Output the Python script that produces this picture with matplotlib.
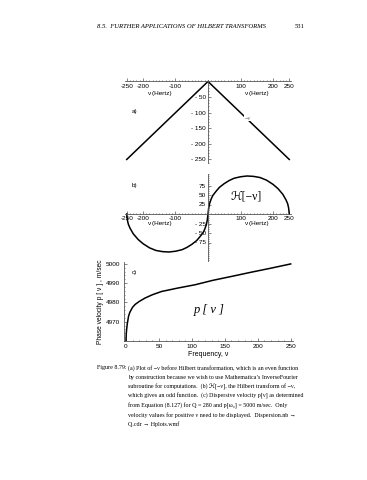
import matplotlib
matplotlib.use("Agg")
import matplotlib.pyplot as plt
from matplotlib.ticker import MultipleLocator

plt.rcParams["axes.unicode_minus"] = False

# ======================
# DATA
# ======================
# (a) -nu before Hilbert transformation
a_x = [-250, 0, 250]
a_y = [-250, 0, -250]

# (b) Hilbert transform of -nu
b_x = [-250, -248, -245, -240, -230, -215, -200, -180, -160, -140, -120, -100,
       -80, -65, -50, -35, -25, -15, -10, -5, -2, 0,
       2, 5, 10, 15, 25, 35, 50, 65, 80, 100, 120, 140, 160, 180, 200, 215,
       230, 240, 245, 248, 250]
b_y = [0, -16, -27, -37, -52, -67, -78, -89, -96, -99, -100, -98,
       -94, -88, -80, -70, -60, -49, -40, -28, -15, 0,
       15, 28, 40, 49, 60, 70, 80, 88, 94, 98, 100, 99, 96, 89, 78, 67,
       52, 37, 27, 16, 0]

# (c) dispersive phase velocity p[nu], m/sec
c_x = [0, 0.5, 1, 2, 4, 6, 10, 14, 20, 29, 40, 54, 79, 105, 132, 160, 190,
       220, 250]
c_y = [4960, 4964, 4966, 4969, 4973, 4975, 4977.5, 4979, 4980.5, 4982.3,
       4984, 4985.7, 4987.5, 4989.2, 4991.5, 4993.5, 4995.7, 4997.8, 5000]

a_xticks = [-250, -200, -100, 100, 200, 250]
a_yticks = [-50, -100, -150, -200, -250]
b_yticks = [75, 50, 25, -25, -50, -75]
c_xticks = [0, 50, 100, 150, 200, 250]
c_yticks = [4970, 4980, 4990, 5000]

header = "8.5.  FURTHER APPLICATIONS OF HILBERT TRANSFORMS"
page_no = "531"
caption = [
    "(a) Plot of \u2212\u03bd before Hilbert transformation, which is an even function",
    "by construction because we wish to use Mathematica\u2019s InverseFourier",
    "subroutine for computations.  (b) \u210b[\u2212\u03bd], the Hilbert transform of \u2212\u03bd,",
    "which gives an odd function.  (c) Dispersive velocity p[\u03bd] as determined",
    "from Equation (8.127) for Q = 280 and p[\u03c9\u2080] = 5000 m/sec.  Only",
    "velocity values for positive \u03bd need to be displayed.  Dispersion.nb \u2192",
    "Q.cdr \u2192 Hplots.wmf",
]

# ======================
# LAYOUT (pixels)
# ======================
W, H = 367, 480
SANS = ["Liberation Sans", "DejaVu Sans"]
SERIF = ["Liberation Serif", "DejaVu Serif", "DejaVu Sans"]
AX_COLOR = "#555555"


def box(x0, y0, x1, y1):
    return [x0 / W, 1 - y1 / H, (x1 - x0) / W, (y1 - y0) / H]


def cross_axes(ax):
    for side in ["top", "right"]:
        ax.spines[side].set_visible(False)
    for side in ["left", "bottom"]:
        ax.spines[side].set_position("zero")
        ax.spines[side].set_color(AX_COLOR)
        ax.spines[side].set_linewidth(0.6)
    ax.tick_params(which="both", direction="in", color=AX_COLOR, width=0.5,
                   labelsize=4.6, pad=1.5)
    ax.tick_params(which="major", length=2)
    ax.tick_params(which="minor", length=1)
    for lab in ax.get_xticklabels() + ax.get_yticklabels():
        lab.set_family(SANS)


fig = plt.figure(figsize=(W / 100, H / 100), dpi=100)
fig.patch.set_facecolor("white")

fig.text(97 / W, 1 - 27 / H, header, family=SERIF, style="italic",
         fontsize=4.8, va="center", ha="left")
fig.text(300 / W, 1 - 27 / H, page_no, family=SERIF, fontsize=4.8,
         va="center", ha="center")

# ---------------- (a)
ax_a = fig.add_axes(box(125.1, 79.6, 290.9, 163.2))
ax_a.plot(a_x, a_y, color="black", lw=1.1)
ax_a.set_xlim(-255, 255)
ax_a.set_ylim(-262, 6)
ax_a.set_xticks(a_xticks)
ax_a.set_yticks(a_yticks)
ax_a.set_yticklabels([f"- {abs(v)}" for v in a_yticks])
ax_a.xaxis.set_minor_locator(MultipleLocator(10))
ax_a.yaxis.set_minor_locator(MultipleLocator(10))
cross_axes(ax_a)
ax_a.text(-150, -44, "\u03bd (Hertz)", family=SANS, fontsize=4.6, ha="center")
ax_a.text(150, -44, "\u03bd (Hertz)", family=SANS, fontsize=4.6, ha="center")
ax_a.text(-225, -100, "a)", family=SANS, fontsize=4.6, ha="center")
ax_a.text(122, -118, "\u2212\u03bd", family=SERIF, fontsize=4.4, color="#666666",
          ha="center", va="center",
          bbox=dict(facecolor="white", edgecolor="none", pad=0.3))

# ---------------- (b)
ax_b = fig.add_axes(box(125.1, 174.1, 290.9, 261.5))
ax_b.plot(b_x, b_y, color="black", lw=1.1)
ax_b.set_xlim(-255, 255)
ax_b.set_ylim(-125, 105)
ax_b.set_xticks(a_xticks)
ax_b.set_yticks(b_yticks)
ax_b.set_yticklabels([str(v) if v > 0 else f"- {abs(v)}" for v in b_yticks])
ax_b.xaxis.set_minor_locator(MultipleLocator(10))
ax_b.yaxis.set_minor_locator(MultipleLocator(5))
cross_axes(ax_b)
ax_b.text(-150, -29, "\u03bd (Hertz)", family=SANS, fontsize=4.6, ha="center")
ax_b.text(150, -29, "\u03bd (Hertz)", family=SANS, fontsize=4.6, ha="center")
ax_b.text(-225, 70, "b)", family=SANS, fontsize=4.6, ha="center")
ax_b.text(118, 45, "\u210b[\u2212\u03bd]", family=SERIF, fontsize=8.5,
          ha="center", va="center")

# ---------------- (c)
ax_c = fig.add_axes(box(124, 262, 292.7, 341))
ax_c.plot(c_x, c_y, color="black", lw=1.1)
ax_c.set_xlim(-3, 253)
ax_c.set_ylim(4960, 5001)
ax_c.set_xticks(c_xticks)
ax_c.set_yticks(c_yticks)
ax_c.xaxis.set_minor_locator(MultipleLocator(10))
ax_c.yaxis.set_minor_locator(MultipleLocator(2))
for side in ["top", "right"]:
    ax_c.spines[side].set_visible(False)
for side in ["left", "bottom"]:
    ax_c.spines[side].set_color(AX_COLOR)
    ax_c.spines[side].set_linewidth(0.6)
ax_c.tick_params(which="both", direction="in", color=AX_COLOR, width=0.5,
                 labelsize=4.6, pad=2.5)
ax_c.tick_params(which="major", length=2)
ax_c.tick_params(which="minor", length=1)
for lab in ax_c.get_xticklabels() + ax_c.get_yticklabels():
    lab.set_family(SANS)
ax_c.set_xlabel("Frequency, \u03bd", family=SANS, fontsize=5, labelpad=1)
ax_c.set_ylabel("Phase velocity p [ \u03bd ] , m/sec", family=SANS, fontsize=4.8,
                labelpad=1.5)
ax_c.text(12, 4995, "c)", family=SANS, fontsize=4.6, ha="center")
ax_c.text(127, 4976, "p [ \u03bd ]", family=SERIF, style="italic", fontsize=9,
          ha="center", va="center")

# ---------------- caption
cap_y0 = 368
cap_dy = 9.4
fig.text(97 / W, 1 - cap_y0 / H, "Figure 8.79:", family=SERIF, fontsize=4.3,
         va="center", ha="left")
for i, line in enumerate(caption):
    fig.text(128 / W, 1 - (cap_y0 + i * cap_dy) / H, line, family=SERIF,
             fontsize=4.3, va="center", ha="left")

fig.savefig("out.png", dpi=100, facecolor="white")
